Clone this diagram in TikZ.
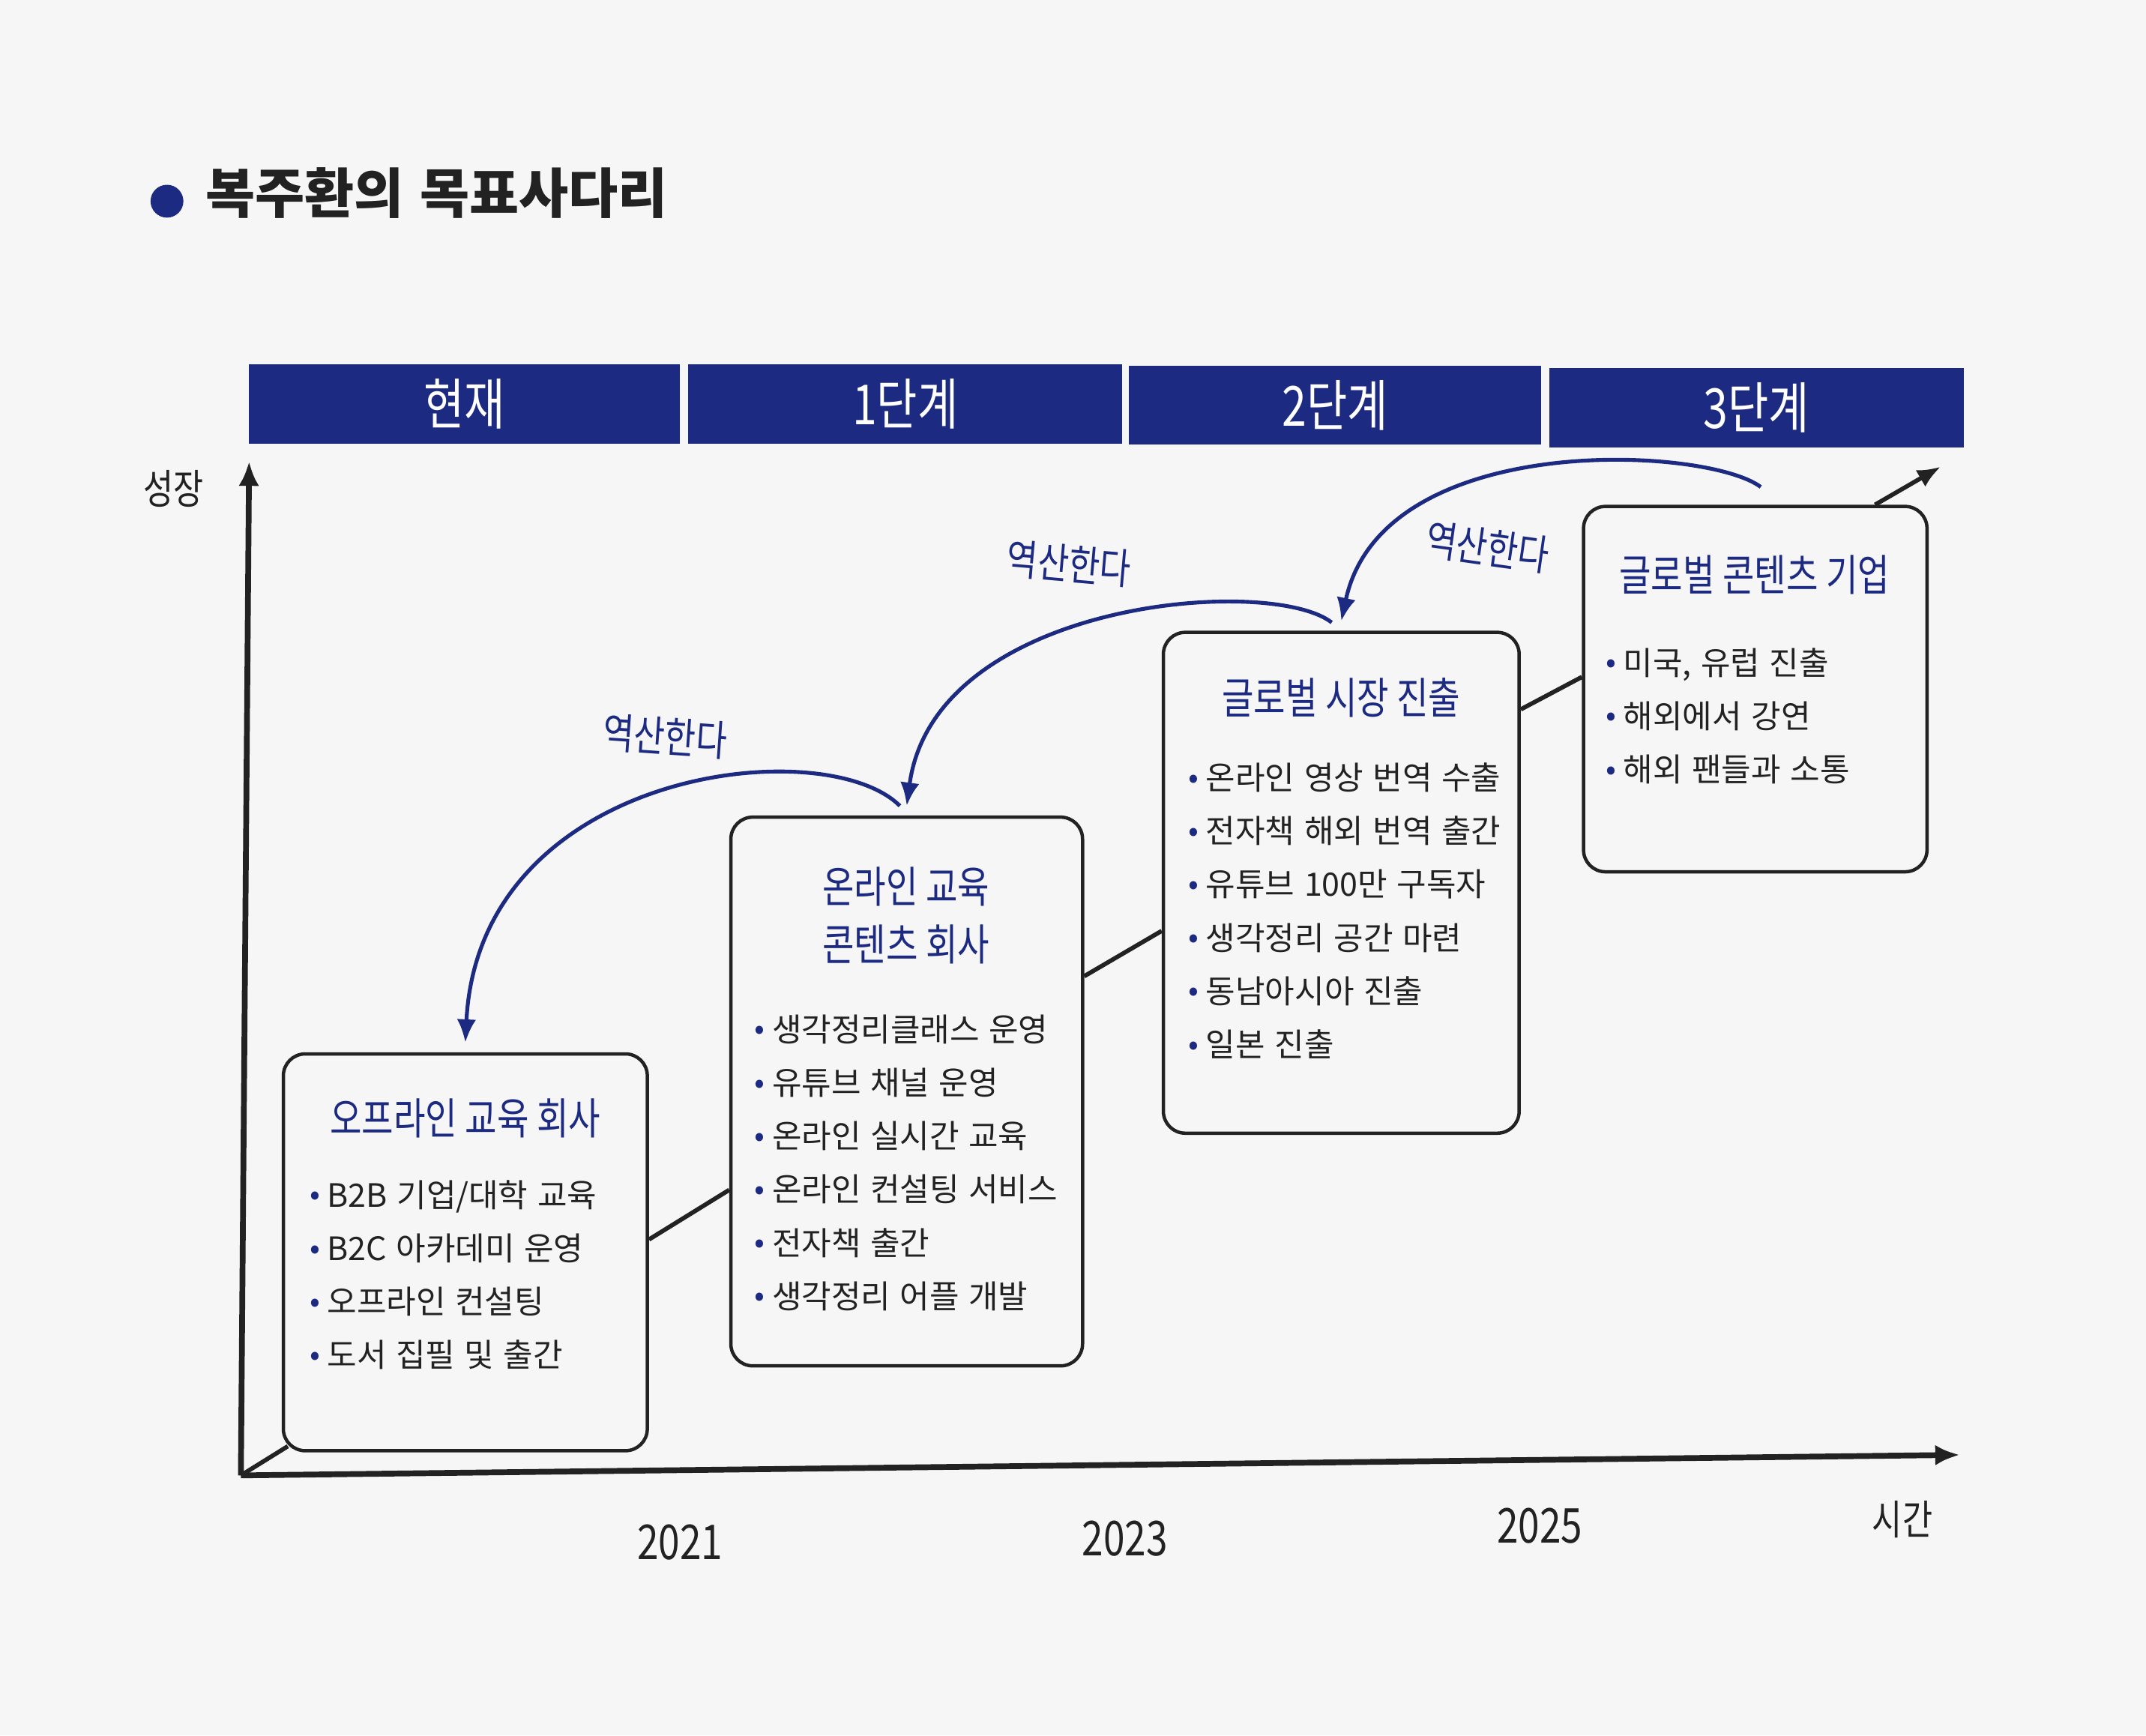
\documentclass[tikz,border=0pt]{standalone}
\usepackage{fontspec}
\setmainfont{Noto Sans CJK KR}[WordSpace=1.3]
\newfontfamily\handfont{Noto Sans CJK KR}[FakeStretch=0.8]
\usetikzlibrary{arrows.meta}
\definecolor{navy}{RGB}{28,42,130}
\definecolor{ink}{RGB}{34,34,34}
\definecolor{paper}{RGB}{246,246,246}
\newcommand{\dotitem}{{\color{navy}\raisebox{0.1ex}{\scalebox{0.95}{•}}}\hspace{0.22em}}

\begin{document}
\begin{tikzpicture}[x=0.02cm,y=-0.02cm,
	box/.style={draw=ink,line width=1.4pt,rounded corners=0.32cm,inner sep=0},
	head/.style={fill=navy,text=white,font=\handfont\fontsize{23}{26}\selectfont,minimum height=1.16cm,inner sep=0},
	boxtitle/.style={text=navy,font=\handfont\fontsize{18}{24}\selectfont,align=center,inner sep=0},
	list/.style={anchor=north west,text=ink,font=\fontsize{13.4}{22.2}\selectfont,align=left,inner sep=0},
	lbl/.style={text=navy,font=\handfont\fontsize{17.5}{20}\selectfont,inner sep=0},
	axlbl/.style={text=ink,font=\handfont\fontsize{17}{20}\selectfont,inner sep=0},
	back/.style={navy,line width=1.6pt,-{Latex[length=0.34cm,width=0.28cm]}},
	link/.style={ink,line width=1.8pt}]
	\fill[paper] (0,0) rectangle (1568,1268);
	\node[circle,fill=navy,minimum size=0.48cm,inner sep=0] (dot) at (122,147) {};
	\node[anchor=west,text=ink,font=\bfseries\fontsize{22.4}{26}\selectfont,inner sep=0] (title) at (150,141) {복주환의 목표사다리};
	\node[head,minimum width=6.3cm] (h0) at (339.5,295) {현재};
	\node[head,minimum width=6.34cm] (h1) at (661.5,295) {1단계};
	\node[head,minimum width=6.02cm] (h2) at (975.5,296) {2단계};
	\node[head,minimum width=6.06cm] (h3) at (1283.5,298) {3단계};
	\coordinate (o) at (176,1078);
	\coordinate (ytip) at (182,337);
	\coordinate (xtip) at (1432,1063);
	\draw[ink,line width=2.4pt,-{Latex[length=0.36cm,width=0.3cm]}] (o) -- (ytip);
	\draw[ink,line width=2.4pt,-{Latex[length=0.36cm,width=0.3cm]}] (o) -- (xtip);
	\node[axlbl] (growth) at (127,357) {성장};
	\node[axlbl] (time) at (1390,1110) {시간};
	\node[axlbl,font=\handfont\fontsize{20}{22}\selectfont] (y21) at (497,1127) {2021};
	\node[axlbl,font=\handfont\fontsize{20}{22}\selectfont] (y23) at (822,1124) {2023};
	\node[axlbl,font=\handfont\fontsize{20}{22}\selectfont] (y25) at (1125,1115) {2025};
	\node[box,minimum width=5.32cm,minimum height=5.8cm] (b1) at (340,915) {};
	\node[box,minimum width=5.14cm,minimum height=8.02cm] (b2) at (662.5,797.5) {};
	\node[box,minimum width=5.2cm,minimum height=7.32cm] (b3) at (980,645) {};
	\node[box,minimum width=5.02cm,minimum height=5.34cm] (b4) at (1282.5,503.5) {};
	\draw[link] (o) -- ([xshift=0.09cm,yshift=0.09cm]b1.south west);
	\draw[link] (b1.4) -- (b2.209);
	\draw[link] (b2.33) -- (b3.195);
	\draw[link] (b3.44) -- (b4.176);
	\coordinate (up) at (1418,341);
	\draw[link,-{Latex[length=0.34cm,width=0.28cm]}] (b4.57) -- (up);
	\node[boxtitle] (t1) at (340,817) {오프라인 교육 회사};
	\node[boxtitle] (t2) at (662,669) {온라인 교육\\콘텐츠 회사};
	\node[boxtitle] (t3) at (980,510) {글로벌 시장 진출};
	\node[boxtitle] (t4) at (1282,420) {글로벌 콘텐츠 기업};
	\node[list] (l1) at (226,862) {\dotitem B2B 기업/대학 교육\\\dotitem B2C 아카데미 운영\\\dotitem 오프라인 컨설팅\\\dotitem 도서 집필 및 출간};
	\node[list] (l2) at (551,741) {\dotitem 생각정리클래스 운영\\\dotitem 유튜브 채널 운영\\\dotitem 온라인 실시간 교육\\\dotitem 온라인 컨설팅 서비스\\\dotitem 전자책 출간\\\dotitem 생각정리 어플 개발};
	\node[list] (l3) at (868,557) {\dotitem 온라인 영상 번역 수출\\\dotitem 전자책 해외 번역 출간\\\dotitem 유튜브 100만 구독자\\\dotitem 생각정리 공간 마련\\\dotitem 동남아시아 진출\\\dotitem 일본 진출};
	\node[list] (l4) at (1173,473) {\dotitem 미국, 유럽 진출\\\dotitem 해외에서 강연\\\dotitem 해외 팬들과 소통};
	\draw[back] ([xshift=0.08cm,yshift=0.26cm]b4.north) .. controls +(-40,-30) and +(30,-140) .. ([yshift=0.14cm]b3.north);
	\draw[back] ([xshift=-0.14cm,yshift=0.12cm]b3.north) .. controls +(-45,-35) and +(20,-150) .. ([yshift=0.14cm]b2.north);
	\draw[back] ([xshift=-0.1cm,yshift=0.14cm]b2.north) .. controls +(-55,-55) and +(10,-200) .. ([yshift=0.14cm]b1.north);
	\node[lbl,rotate=-8] (r1) at (1087,400) {역산한다};
	\node[lbl,rotate=-5] (r2) at (781,412) {역산한다};
	\node[lbl,rotate=-4] (r3) at (486,538) {역산한다};
\end{tikzpicture}
\end{document}
